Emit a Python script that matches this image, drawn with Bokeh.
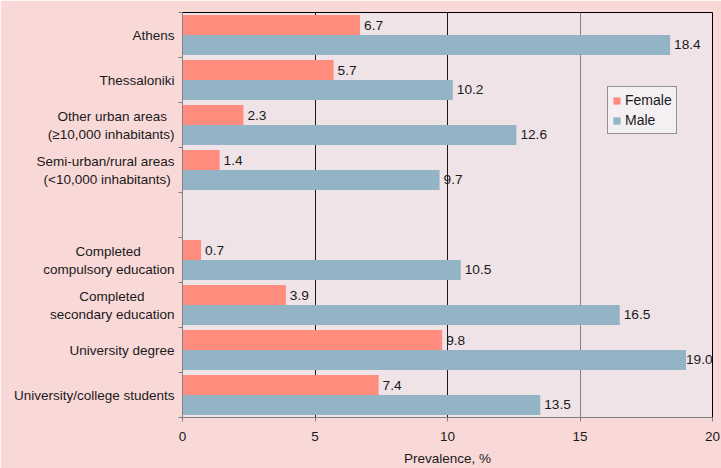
from bokeh.plotting import figure
from bokeh.models import (ColumnDataSource, FixedTicker, Grid, Legend, LegendItem,
                          LabelSet, Range1d)
from bokeh.core.properties import value
from bokeh.embed import file_html
from bokeh.resources import INLINE

# Prevalence (%) by place of residence and by education, women and men
categories = [
    "Athens",
    "Thessaloniki",
    "Other urban areas\n(\u226510,000 inhabitants)",
    "Semi-urban/rural areas\n(<10,000 inhabitants)",
    "",
    "Completed\ncompulsory education",
    "Completed\nsecondary education",
    "University degree",
    "University/college students",
]
female = [6.7, 5.7, 2.3, 1.4, None, 0.7, 3.9, 9.8, 7.4]
male = [18.4, 10.2, 12.6, 9.7, None, 10.5, 16.5, 19.0, 13.5]
x_ticks = [0, 5, 10, 15, 20]

FONT = "Liberation Sans"
SIZE = 13.5
VALUE_SIZE = 13.7
TEXT = "#1a1a1a"
FEMALE_C = "#FF8C7D"
MALE_C = "#92B4C5"

PLOT_W, PLOT_H = 721, 468
BORDER_L, BORDER_R, BORDER_T, BORDER_B = 182, 9, 12, 51
X_MAX = 20

# Advance widths (1/1000 em) of the Arial-metric font, used to centre the
# lines of a two-line axis label and to keep value labels inside the frame.
ADV = {" ": 278, "\u00a0": 278, "(": 333, ")": 333, ",": 278, ".": 278, "/": 278,
       "-": 333, "0": 556, "1": 556, "<": 584, "\u2265": 549, "C": 722, "O": 778,
       "S": 667, "a": 556, "b": 556, "c": 500, "d": 556, "e": 556, "h": 556,
       "i": 222, "l": 222, "m": 833, "n": 556, "o": 556, "p": 556, "r": 333,
       "s": 500, "t": 278, "u": 556, "y": 500}


def text_width(s, size=SIZE):
    return sum(ADV.get(ch, 556) for ch in s) * size / 1000.0


def centred_lines(label):
    lines = label.split("\n")
    if len(lines) < 2:
        return label
    widest = max(text_width(s) for s in lines)
    pad_w = text_width("\u00a0")
    out = []
    for s in lines:
        pad = int(round((widest - text_width(s)) / 2.0 / pad_w))
        out.append(s + "\u00a0" * pad)
    return "\n".join(out)


px_per_unit = (PLOT_W - BORDER_L - BORDER_R) / X_MAX


def label_offset(v, txt, gap=4):
    # nudge a value label left when it would run past the right edge
    room = (X_MAX - v) * px_per_unit - text_width(txt, VALUE_SIZE)
    return max(0.0, min(gap, room))


n = len(categories)
centers = [i + 0.5 for i in range(n)]
bar_h = 0.444
shift = bar_h / 2


def bar_source(vals, sign):
    rows = [i for i in range(n) if vals[i] is not None]
    txt = ["%.1f" % vals[i] for i in rows]
    return ColumnDataSource(dict(
        y=[centers[i] + sign * shift for i in rows],
        v=[vals[i] for i in rows],
        t=txt,
        dx=[label_offset(vals[i], s) for i, s in zip(rows, txt)],
    ))


f_src = bar_source(female, -1)
m_src = bar_source(male, +1)

p = figure(width=PLOT_W, height=PLOT_H, output_backend="svg", toolbar_location=None,
           x_range=Range1d(0, X_MAX), y_range=Range1d(n, 0),
           min_border_left=BORDER_L, min_border_right=BORDER_R,
           min_border_top=BORDER_T, min_border_bottom=BORDER_B)
p.background_fill_color = "#EFE3E7"
p.border_fill_color = "#F9D8D8"
p.outline_line_color = "#000000"
p.outline_line_width = 1

# vertical reference lines
p.xgrid.ticker = FixedTicker(ticks=[5, 10])
p.xgrid.grid_line_color = "#1a1a1a"
p.ygrid.visible = False
p.add_layout(Grid(dimension=0, ticker=FixedTicker(ticks=[15]),
                  grid_line_color="#808080"))

fr = p.hbar(y="y", right="v", left=0, height=bar_h, source=f_src,
            fill_color=FEMALE_C, line_color=None)
mr = p.hbar(y="y", right="v", left=0, height=bar_h, source=m_src,
            fill_color=MALE_C, line_color=None)

for src in (f_src, m_src):
    p.add_layout(LabelSet(x="v", y="y", text="t", source=src, x_offset="dx",
                          text_baseline="middle", text_align="left",
                          text_font=value(FONT),
                          text_font_size="%gpx" % VALUE_SIZE,
                          text_color=TEXT))

# x axis
xa = p.xaxis[0]
xa.ticker = FixedTicker(ticks=x_ticks)
xa.axis_label = "Prevalence, %"
xa.axis_label_text_font = FONT
xa.axis_label_text_font_style = "normal"
xa.axis_label_text_font_size = "13.5px"
xa.axis_label_text_color = TEXT
xa.axis_label_standoff = 7
xa.major_label_text_font = FONT
xa.major_label_text_font_size = "13.5px"
xa.major_label_text_color = TEXT
xa.major_label_standoff = 10
xa.axis_line_color = "#808080"
xa.major_tick_line_color = "#808080"
xa.major_tick_out = 4
xa.major_tick_in = 0
xa.minor_tick_line_color = None

# y axis: labels at row centres, small ticks at row boundaries
ya = p.yaxis[0]
label_rows = [i for i in range(n) if categories[i]]
ya.ticker = FixedTicker(ticks=[centers[i] for i in label_rows],
                        minor_ticks=list(range(n + 1)))
ya.major_label_overrides = {centers[i]: centred_lines(categories[i])
                            for i in label_rows}
ya.major_label_text_font = FONT
ya.major_label_text_font_size = "13.5px"
ya.major_label_text_color = TEXT
ya.major_label_standoff = 4
ya.major_tick_line_color = None
ya.major_tick_out = 0
ya.major_tick_in = 0
ya.minor_tick_line_color = "#808080"
ya.minor_tick_out = 4
ya.minor_tick_in = 0
ya.axis_line_color = "#808080"

legend = Legend(items=[LegendItem(label="Female", renderers=[fr]),
                       LegendItem(label="Male", renderers=[mr])],
                location=(425, 283), orientation="vertical")
legend.label_text_font = FONT
legend.label_text_font_size = "14px"
legend.label_text_color = TEXT
legend.glyph_width = 9
legend.glyph_height = 9
legend.label_height = 18
legend.label_standoff = 4
legend.spacing = 2
legend.padding = 4
legend.margin = 0
legend.border_line_color = "#333333"
legend.background_fill_color = "#F4EFF2"
legend.background_fill_alpha = 1
p.add_layout(legend)

open("out.html", "w").write(file_html(p, INLINE))
